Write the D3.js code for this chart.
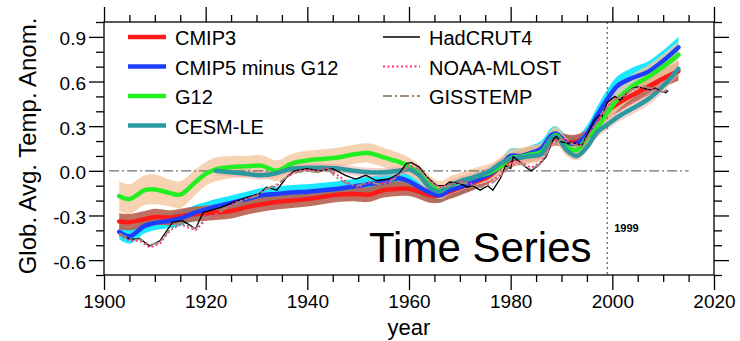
<!DOCTYPE html>
<html>
<head>
<meta charset="utf-8">
<script src="https://cdn.jsdelivr.net/npm/d3@7"></script>
<style>
body { margin: 0; background: white; }
svg text { font-family: "Liberation Sans", Arial, sans-serif; fill: black; }
</style>
</head>
<body>
<svg class="svgMain" width="740" height="341"></svg>
<script>
// Global average temperature anomaly: model ensembles vs observations.

// ---- data ----
var modelYears = [1903,1905,1908,1910,1913,1915,1918,1920,1922,1925,
                  1928,1931,1934,1937,1940,1943,1946,1949,1952,1955,
                  1958,1960,1962,1964,1966,1968,1970,1973,1976,1978,
                  1980,1982,1984,1986,1988,1989,1991,1993,1995,1997,
                  1999,2001,2004,2007,2010,2013];

var cmip3 = [-0.34,-0.345,-0.325,-0.31,-0.315,-0.305,-0.29,-0.285,-0.28,-0.27,
             -0.245,-0.225,-0.21,-0.2,-0.19,-0.175,-0.16,-0.155,-0.16,-0.13,
             -0.12,-0.12,-0.14,-0.165,-0.165,-0.14,-0.115,-0.075,-0.03,0.03,
             0.07,0.09,0.11,0.13,0.21,0.22,0.195,0.195,0.23,0.32,
             0.4,0.45,0.51,0.565,0.62,0.67];
var cmip3Spread = [0.055,0.055,0.055,0.055,0.05,0.05,0.05,0.05,0.05,0.05,
                   0.05,0.05,0.05,0.05,0.05,0.05,0.05,0.05,0.05,0.05,
                   0.05,0.05,0.05,0.05,0.05,0.05,0.05,0.05,0.05,0.05,
                   0.05,0.05,0.05,0.05,0.05,0.05,0.05,0.05,0.05,0.055,
                   0.06,0.06,0.06,0.06,0.06,0.065];

var cmip5 = [-0.41,-0.44,-0.37,-0.35,-0.335,-0.32,-0.28,-0.26,-0.24,-0.215,
             -0.19,-0.165,-0.155,-0.145,-0.14,-0.13,-0.12,-0.105,-0.09,-0.075,
             -0.05,-0.07,-0.11,-0.145,-0.165,-0.13,-0.11,-0.065,-0.02,0.03,
             0.1,0.1,0.12,0.15,0.24,0.25,0.19,0.185,0.25,0.37,
             0.48,0.57,0.625,0.665,0.74,0.83];
var cmip5Spread = [0.05,0.05,0.05,0.05,0.05,0.05,0.05,0.05,0.05,0.05,
                   0.05,0.05,0.05,0.05,0.05,0.05,0.05,0.05,0.05,0.05,
                   0.05,0.05,0.05,0.05,0.05,0.05,0.05,0.05,0.05,0.05,
                   0.05,0.05,0.05,0.05,0.05,0.05,0.05,0.05,0.055,0.06,
                   0.065,0.065,0.07,0.07,0.07,0.07];

var g12 = [-0.17,-0.19,-0.13,-0.125,-0.15,-0.16,-0.075,-0.02,0.01,0.025,
           0.03,0.035,0.0,0.05,0.07,0.08,0.09,0.11,0.12,0.09,
           0.06,0.03,-0.02,-0.09,-0.13,-0.1,-0.075,-0.04,-0.01,0.03,
           0.085,0.095,0.11,0.125,0.22,0.24,0.16,0.14,0.22,0.29,
           0.39,0.48,0.57,0.63,0.7,0.78];
var g12Spread = [0.1,0.1,0.1,0.1,0.09,0.09,0.085,0.08,0.08,0.075,
                 0.07,0.07,0.07,0.065,0.065,0.065,0.065,0.065,0.065,0.065,
                 0.06,0.06,0.06,0.06,0.06,0.06,0.06,0.06,0.06,0.06,
                 0.06,0.06,0.06,0.06,0.06,0.06,0.06,0.06,0.06,0.065,
                 0.07,0.075,0.08,0.08,0.085,0.09];

var cesm = [null,null,null,null,null,null,null,null,0.0,-0.01,
            -0.02,-0.03,-0.015,0.015,0.02,0.02,0.015,0.0,-0.01,-0.01,
            0.0,0.01,-0.03,-0.11,-0.14,-0.1,-0.07,-0.04,0.0,0.05,
            0.08,0.09,0.1,0.11,0.22,0.23,0.14,0.1,0.16,0.26,
            0.31,0.36,0.42,0.48,0.57,0.685];
var cesmSpread = [0.03,0.03,0.03,0.03,0.03,0.03,0.03,0.03,0.03,0.03,
                  0.03,0.03,0.03,0.03,0.03,0.03,0.03,0.03,0.03,0.03,
                  0.03,0.03,0.03,0.03,0.03,0.03,0.03,0.03,0.03,0.03,
                  0.03,0.03,0.03,0.03,0.03,0.03,0.03,0.03,0.03,0.035,
                  0.035,0.035,0.04,0.04,0.04,0.04];

var hadYears = [1903,1905,1907,1909,1911,1913.5,1915.5,1918,1919.5,1921,
                1923,1925.5,1928,1930.5,1932,1934,1936,1937.5,1940,1942.5,
                1945,1947.5,1949.5,1951.5,1953.5,1956,1958,1959.5,1960.5,1962,
                1963.5,1965.5,1967,1968,1970,1971.5,1972.5,1974,1975.5,1976.5,
                1978,1979,1980,1980.5,1981.5,1982.5,1984,1985.5,1987,1988.5,
                1989,1990,1991.5,1992.5,1994,1995,1996.5,1997.5,1998,1999,
                2000.5,2001.5,2002.5,2004,2005,2006,2007.5,2008.5,2009.5,2010.5,2011];
var hadcrut4 = [-0.42,-0.46,-0.455,-0.505,-0.47,-0.345,-0.335,-0.39,-0.28,-0.265,
                -0.245,-0.21,-0.18,-0.155,-0.11,-0.13,-0.04,0.0,0.015,0.0,
                0.015,-0.03,-0.055,-0.03,-0.065,-0.055,-0.02,0.05,0.055,0.025,
                -0.04,-0.1,-0.1,-0.075,-0.085,-0.11,-0.1,-0.13,-0.1,-0.13,
                -0.05,0.035,0.015,0.095,0.07,0.037,0.0,0.037,0.095,0.22,
                0.23,0.195,0.185,0.19,0.17,0.24,0.34,0.375,0.365,0.46,
                0.5,0.475,0.51,0.555,0.565,0.555,0.545,0.555,0.535,0.525,0.54];

var obsYears = [1903,1905,1907,1909,1911,1913,1915,1918,1920,1922,
                1924,1926,1928,1930,1932,1934,1936,1938,1940,1942,
                1944,1946,1948,1950,1952,1954,1956,1958,1960,1962,
                1964,1966,1968,1970,1972,1974,1976,1978,1980,1982,
                1984,1986,1988,1990,1992,1994,1996,1998,2000,2002,
                2004,2006,2008,2010,2011];
var noaaMlost = [-0.43,-0.47,-0.47,-0.515,-0.49,-0.4,-0.36,-0.4,-0.33,-0.3,
                 -0.25,-0.21,-0.19,-0.16,-0.12,-0.1,-0.04,0.0,0.01,0.0,
                 0.02,-0.03,-0.08,-0.11,-0.08,-0.09,-0.07,-0.03,0.04,0.01,
                 -0.06,-0.11,-0.09,-0.07,-0.08,-0.1,-0.07,-0.03,0.05,0.06,
                 0.02,0.06,0.18,0.22,0.19,0.17,0.28,0.38,0.48,0.5,
                 0.55,0.56,0.55,0.53,0.54];
var gisstemp = [-0.42,-0.46,-0.46,-0.5,-0.48,-0.39,-0.35,-0.39,-0.32,-0.29,
                -0.25,-0.22,-0.19,-0.17,-0.12,-0.09,-0.04,-0.01,0.0,-0.01,
                0.01,-0.05,-0.09,-0.1,-0.07,-0.09,-0.08,-0.03,0.03,0.01,
                -0.07,-0.12,-0.1,-0.08,-0.09,-0.11,-0.09,-0.04,0.04,0.05,
                0.01,0.05,0.17,0.21,0.18,0.16,0.27,0.37,0.47,0.5,
                0.55,0.57,0.55,0.53,0.55];

var xMajorTicks = [1900, 1920, 1940, 1960, 1980, 2000, 2020];
var yMajorTicks = [-0.6, -0.3, 0.0, 0.3, 0.6, 0.9];
var refLineYears = [1901, 2015];
var markYear = 1999;

// ---- geometry ----
PLOT_L = 104;
PLOT_R = 714;
PLOT_T = 22;
PLOT_B = 275;

var svgMain = d3.select(".svgMain");
var x = d3.scaleLinear().domain([1900, 2020]).range([PLOT_L, PLOT_R]);
var y = d3.scaleLinear().domain([-0.7, 1.0]).range([PLOT_B, PLOT_T]);

function pack (years, vals, spread) {
    return years.map(function (yr, i) {
        return { x: yr, v: vals[i], s: spread ? spread[i] : 0 };
    });
}

var models = [
    { name: "CMIP3", pts: pack(modelYears, cmip3, cmip3Spread), line: "#ff1a1a", band: "#b8604f", bandOp: 0.9 },
    { name: "CMIP5 minus G12", pts: pack(modelYears, cmip5, cmip5Spread), line: "#1f3dff", band: "#00e6ff", bandOp: 0.9 },
    { name: "G12", pts: pack(modelYears, g12, g12Spread), line: "#22ee22", band: "#f5c8a0", bandOp: 0.8 },
    { name: "CESM-LE", pts: pack(modelYears, cesm, cesmSpread), line: "#2a9a9e", band: "#f2a8a8", bandOp: 0.55 }
];
var obs = [
    { name: "HadCRUT4", pts: pack(hadYears, hadcrut4), color: "black", width: 1.3, dash: null },
    { name: "NOAA-MLOST", pts: pack(obsYears, noaaMlost), color: "#ff3388", width: 1.8, dash: "2,2.5" },
    { name: "GISSTEMP", pts: pack(obsYears, gisstemp), color: "#a08a78", width: 1.8, dash: "9,3,2,3" }
];

// ---- bands, then lines ----
var bandOrder = [1, 0, 2, 3];
bandOrder.forEach(function (k) {
    var m = models[k];
    var area = d3.area()
        .defined(function (d) { return d.v !== null; })
        .x(function (d) { return x(d.x); })
        .y0(function (d) { return y(d.v - d.s); })
        .y1(function (d) { return y(d.v + d.s); })
        .curve(d3.curveCatmullRom);
    svgMain.append("path")
        .attr("d", area(m.pts))
        .attr("fill", m.band)
        .attr("fill-opacity", m.bandOp);
});

// zero reference line
svgMain.append("line")
    .attr("x1", x(refLineYears[0])).attr("x2", x(refLineYears[1]))
    .attr("y1", y(0)).attr("y2", y(0))
    .attr("stroke", "#707070").attr("stroke-width", 1.2)
    .attr("stroke-dasharray", "10,3,2,3");

// 1999 marker
svgMain.append("line")
    .attr("x1", x(markYear)).attr("x2", x(markYear))
    .attr("y1", PLOT_T).attr("y2", PLOT_B)
    .attr("stroke", "#666").attr("stroke-width", 1.3)
    .attr("stroke-dasharray", "2,3");

var modelLine = d3.line()
    .defined(function (d) { return d.v !== null; })
    .x(function (d) { return x(d.x); })
    .y(function (d) { return y(d.v); })
    .curve(d3.curveCatmullRom);
models.forEach(function (m) {
    svgMain.append("path")
        .attr("d", modelLine(m.pts))
        .attr("fill", "none")
        .attr("stroke", m.line)
        .attr("stroke-width", 4.5)
        .attr("stroke-linecap", "round");
});

var obsLine = d3.line()
    .x(function (d) { return x(d.x); })
    .y(function (d) { return y(d.v); });
obs.forEach(function (o) {
    svgMain.append("path")
        .attr("d", obsLine(o.pts))
        .attr("fill", "none")
        .attr("stroke", o.color)
        .attr("stroke-width", o.width)
        .attr("stroke-dasharray", o.dash);
});

// ---- axes ----
var fmtY = function (d) { return d3.format(".1f")(d).replace("\u2212", "-"); };
var xMinor = d3.range(1900, 2021, 5).filter(function (d) { return xMajorTicks.indexOf(d) < 0; });
var yMinor = d3.range(-7, 11).map(function (d) { return d / 10; })
    .filter(function (d) { return yMajorTicks.indexOf(d) < 0; });

function drawAxis (axis, tx, ty, showText) {
    var g = svgMain.append("g")
        .attr("transform", "translate(" + tx + "," + ty + ")")
        .call(axis);
    g.select(".domain").remove();
    g.selectAll("line").attr("stroke", "black").attr("stroke-width", 1.3);
    if (!showText) g.selectAll("text").remove();
    return g;
}

var bottomAxis = drawAxis(d3.axisBottom(x).tickValues(xMajorTicks).tickSize(15).tickPadding(5).tickFormat(d3.format("d")), 0, PLOT_B, true);
bottomAxis.selectAll("text").attr("font-size", 19).attr("font-family", "Liberation Sans, Arial, sans-serif");
drawAxis(d3.axisBottom(x).tickValues(xMinor).tickSize(7).tickFormat(""), 0, PLOT_B, false);
drawAxis(d3.axisTop(x).tickValues(xMajorTicks).tickSize(15).tickFormat(""), 0, PLOT_T, false);
drawAxis(d3.axisTop(x).tickValues(xMinor).tickSize(7).tickFormat(""), 0, PLOT_T, false);

var leftAxis = drawAxis(d3.axisLeft(y).tickValues(yMajorTicks).tickSize(15).tickPadding(3).tickFormat(fmtY), PLOT_L, 0, true);
leftAxis.selectAll("text").attr("font-size", 19).attr("dy", "0.42em").attr("font-family", "Liberation Sans, Arial, sans-serif");
drawAxis(d3.axisLeft(y).tickValues(yMinor).tickSize(8).tickFormat(""), PLOT_L, 0, false);
drawAxis(d3.axisRight(y).tickValues(yMajorTicks).tickSize(15).tickFormat(""), PLOT_R, 0, false);
drawAxis(d3.axisRight(y).tickValues(yMinor).tickSize(8).tickFormat(""), PLOT_R, 0, false);

svgMain.append("rect")
    .attr("x", PLOT_L).attr("y", PLOT_T)
    .attr("width", PLOT_R - PLOT_L).attr("height", PLOT_B - PLOT_T)
    .attr("fill", "none").attr("stroke", "black").attr("stroke-width", 1.3);

// axis titles
svgMain.append("text")
    .attr("x", (PLOT_L + PLOT_R) / 2).attr("y", 335)
    .attr("text-anchor", "middle").attr("font-size", 22)
    .text("year");
svgMain.append("text")
    .attr("transform", "translate(36," + 146 + ") rotate(-90)")
    .attr("text-anchor", "middle").attr("font-size", 24)
    .text("Glob. Avg. Temp. Anom.");

// ---- legend ----
var LEG_ROW = 29.5;
models.forEach(function (m, i) {
    var ly = 37 + LEG_ROW * i;
    svgMain.append("line")
        .attr("x1", 128).attr("x2", 166).attr("y1", ly).attr("y2", ly)
        .attr("stroke", m.line).attr("stroke-width", 4.5);
    svgMain.append("text")
        .attr("x", 175).attr("y", ly + 8).attr("font-size", 20)
        .text(m.name);
});
obs.forEach(function (o, i) {
    var ly = 37 + LEG_ROW * i;
    svgMain.append("line")
        .attr("x1", 383).attr("x2", 420).attr("y1", ly).attr("y2", ly)
        .attr("stroke", o.color).attr("stroke-width", o.width + 0.3)
        .attr("stroke-dasharray", o.dash);
    svgMain.append("text")
        .attr("x", 429).attr("y", ly + 8).attr("font-size", 20)
        .text(o.name);
});

// annotations
svgMain.append("text")
    .attr("x", x(markYear) + 7).attr("y", 232)
    .attr("font-family", "Liberation Serif, serif").attr("font-weight", "bold")
    .attr("font-size", 11)
    .text("1999");
svgMain.append("text")
    .attr("x", 369).attr("y", 262)
    .attr("font-family", "Lato, sans-serif").attr("font-size", 42)
    .text("Time Series");
</script>
</body>
</html>
